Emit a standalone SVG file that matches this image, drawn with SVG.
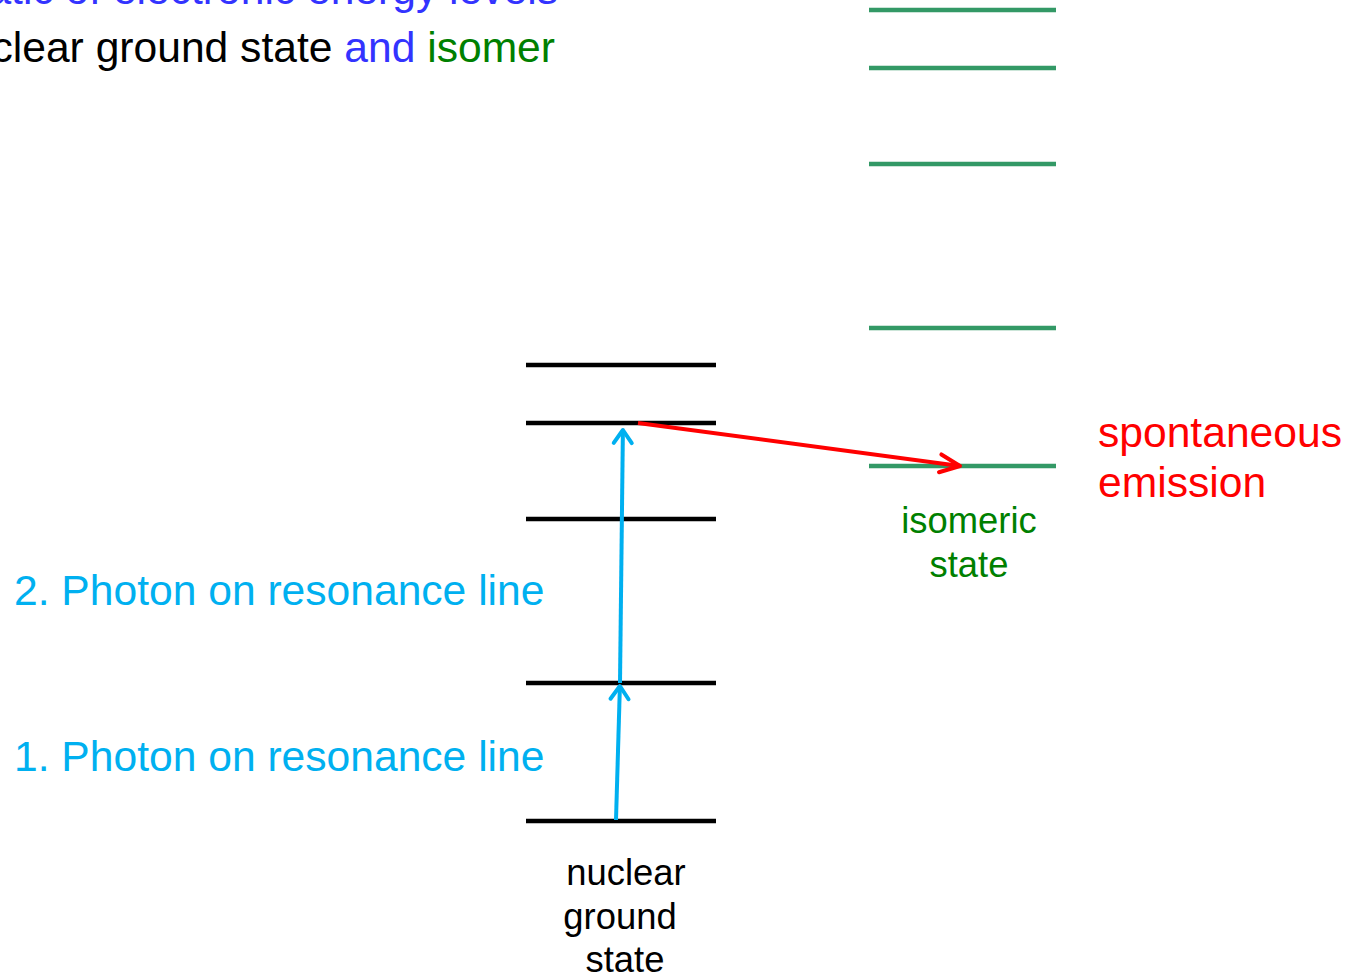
<svg xmlns="http://www.w3.org/2000/svg" width="1348" height="980" viewBox="0 0 1348 980">
<style>
text{font-family:"Liberation Sans",Arial,sans-serif}
.lvl{stroke:#000;stroke-width:4.5;fill:none}
.glvl{stroke:#339966;stroke-width:4.5;fill:none}
.big{font-size:42.6px}
.mid{font-size:36.4px}
.blue{fill:#00b0f0}
.ab{stroke:#00b0f0;stroke-width:4;fill:none}
.ar{stroke:#ff0000;stroke-width:4;fill:none}
</style>
<defs>
<marker id="hb" markerUnits="userSpaceOnUse" orient="auto" refX="0" refY="0" markerWidth="30" markerHeight="30" overflow="visible">
<path d="M-13,-9 L0,0 L-13,9" fill="none" stroke="#00b0f0" stroke-width="4" stroke-linecap="round" stroke-linejoin="round"/>
</marker>
<marker id="hr" markerUnits="userSpaceOnUse" orient="auto" refX="0" refY="0" markerWidth="30" markerHeight="30" overflow="visible">
<path d="M-20,-9 L0,0 L-20,9" fill="none" stroke="#ff0000" stroke-width="4" stroke-linecap="round" stroke-linejoin="round"/>
</marker>
</defs>
<rect width="1348" height="980" fill="#fff"/>
<g id="title">
<text class="big" x="558" y="4" text-anchor="end" fill="#3333ff">atic of electronic energy levels</text>
<text class="big" x="555" y="62" text-anchor="end"><tspan fill="#000">clear ground state </tspan><tspan fill="#3333ff">and </tspan><tspan fill="#008000">isomer</tspan></text>
</g>
<g id="nuclear-levels">
<line class="lvl" x1="526" y1="365" x2="716" y2="365"/>
<line class="lvl" x1="526" y1="423" x2="716" y2="423"/>
<line class="lvl" x1="526" y1="519" x2="716" y2="519"/>
<line class="lvl" x1="526" y1="683" x2="716" y2="683"/>
<line class="lvl" x1="526" y1="821" x2="716" y2="821"/>
</g>
<g id="isomer-levels">
<line class="glvl" x1="869" y1="10" x2="1056" y2="10"/>
<line class="glvl" x1="869" y1="68" x2="1056" y2="68"/>
<line class="glvl" x1="869" y1="164" x2="1056" y2="164"/>
<line class="glvl" x1="869" y1="328" x2="1056" y2="328"/>
<line class="glvl" x1="869" y1="466" x2="1056" y2="466"/>
</g>
<g id="connectors">
<line class="ab" x1="616" y1="820" x2="619.9" y2="686" marker-end="url(#hb)"/>
<line class="ab" x1="620" y1="683" x2="622.9" y2="430" marker-end="url(#hb)"/>
<line class="ar" x1="638" y1="423" x2="960" y2="466" marker-end="url(#hr)"/>
</g>
<g id="label-ground">
<text class="mid" text-anchor="middle" fill="#000"><tspan x="626" y="885">nuclear</tspan><tspan x="620" y="929">ground</tspan><tspan x="625" y="972">state</tspan></text>
</g>
<g id="label-isomeric">
<text class="mid" text-anchor="middle" fill="#008000"><tspan x="969" y="533">isomeric</tspan><tspan x="969" y="577">state</tspan></text>
</g>
<g id="label-emission">
<text class="big" fill="#ff0000"><tspan x="1098" y="447">spontaneous</tspan><tspan x="1098" y="497">emission</tspan></text>
</g>
<g id="label-photon2"><text class="big blue" x="14" y="605">2. Photon on resonance line</text></g>
<g id="label-photon1"><text class="big blue" x="14" y="771">1. Photon on resonance line</text></g>
</svg>
